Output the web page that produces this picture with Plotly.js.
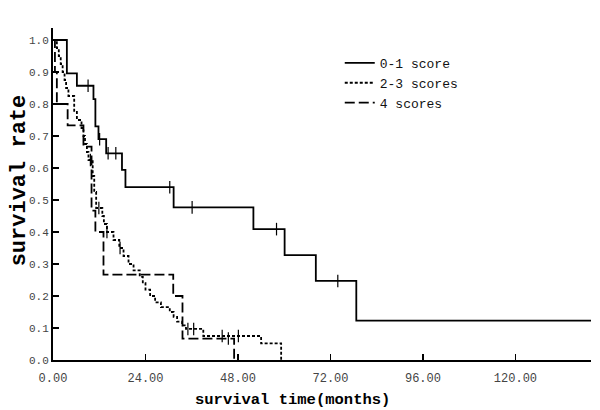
<!DOCTYPE html>
<html>
<head>
<meta charset="utf-8">
<script src="https://cdn.plot.ly/plotly-3.0.1.min.js"></script>
<style>
  body { margin: 0; background: #fff; }
  #chart { width: 600px; height: 410px; }
</style>
</head>
<body>
<div id="chart"></div>
<script>
// step points (month, survival)
const score01Time = [0, 3.6, 6.2, 10.5, 11.0, 11.8, 13.8, 17.9, 18.8, 31.3, 52.0, 60.1, 68.2, 78.7, 139.6];
const score01Surv = [1.0, 0.896, 0.857, 0.815, 0.73, 0.69, 0.646, 0.594, 0.54, 0.477, 0.409, 0.328, 0.247, 0.123, 0.123];
const score01CensTime = [9.1, 12.1, 14.3, 16.3, 30.3, 36.1, 58.0, 73.9];
const score01CensSurv = [0.857, 0.69, 0.646, 0.646, 0.54, 0.477, 0.409, 0.247];

const score23Time = [0, 1.0, 1.5, 2.0, 2.5, 3.0, 3.4, 4.0, 5.5, 6.2, 7.4, 7.9, 8.3, 8.8, 9.2, 10.3, 10.7, 11.2, 12.8, 13.2, 14.0, 15.7, 17.2, 18.3, 19.6, 20.9, 22.5, 23.3, 24.0, 25.2, 26.5, 28.0, 30.3, 31.3, 32.2, 33.5, 34.5, 39.0, 54.0, 59.2];
const score23Surv = [1.0, 0.975, 0.95, 0.925, 0.9, 0.875, 0.85, 0.825, 0.775, 0.75, 0.725, 0.70, 0.675, 0.65, 0.625, 0.575, 0.525, 0.475, 0.45, 0.425, 0.40, 0.375, 0.35, 0.325, 0.30, 0.28, 0.26, 0.24, 0.22, 0.20, 0.18, 0.165, 0.15, 0.135, 0.12, 0.108, 0.097, 0.075, 0.052, 0.0];
const score23CensTime = [9.7, 11.9, 14.0, 17.4, 35.0, 36.5, 43.9, 48.1];
const score23CensSurv = [0.625, 0.475, 0.40, 0.35, 0.097, 0.097, 0.075, 0.075];

const score4Time = [0, 0.5, 1.0, 3.8, 7.9, 10.0, 11.0, 13.1, 31.2, 33.6, 47.0];
const score4Surv = [1.0, 0.9, 0.8, 0.733, 0.667, 0.467, 0.4, 0.267, 0.2, 0.067, 0.0];
const score4CensTime = [45.5];
const score4CensSurv = [0.067];

const seriesNames = ['0-1 score', '2-3 scores', '4 scores'];
const xTicks = [0, 24, 48, 72, 96, 120];
const xTitle = 'survival time(months)';
const yTitle = 'survival rate';

const mono = 'Liberation Mono, DejaVu Sans Mono, monospace';

function stepTrace(x, y, name, dash) {
  return {
    x: x, y: y, name: name, type: 'scatter', mode: 'lines',
    line: {shape: 'hv', color: '#000', width: 1.8, dash: dash},
  };
}
function censorTrace(x, y) {
  return {
    x: x, y: y, type: 'scatter', mode: 'markers', showlegend: false,
    marker: {symbol: 'line-ns-open', size: 9, color: '#000', line: {color: '#000', width: 1.2}},
  };
}

const data = [
  stepTrace(score01Time, score01Surv, seriesNames[0], 'solid'),
  stepTrace(score23Time, score23Surv, seriesNames[1], '3px,2px'),
  stepTrace(score4Time, score4Surv, seriesNames[2], '10px,4px'),
  censorTrace(score01CensTime, score01CensSurv),
  censorTrace(score23CensTime, score23CensSurv),
  censorTrace(score4CensTime, score4CensSurv),
];

const layout = {
  width: 600, height: 410,
  margin: {l: 53, r: 9, t: 28, b: 50},
  paper_bgcolor: '#fff', plot_bgcolor: '#fff',
  showlegend: true,
  legend: {
    x: 0.533, y: 0.94, xanchor: 'left', yanchor: 'top',
    font: {family: mono, size: 13, color: '#111'},
    bgcolor: 'rgba(0,0,0,0)', itemwidth: 30, tracegroupgap: 0,
  },
  xaxis: {
    range: [0, 139.6], tickvals: xTicks, tickformat: '.2f',
    ticks: 'inside', ticklen: 6, tickwidth: 1.5, tickcolor: '#000',
    showline: true, linecolor: '#000', linewidth: 2,
    showgrid: false, zeroline: false, ticklabelstandoff: 6,
    tickfont: {family: mono, size: 12, color: '#444'},
  },
  yaxis: {
    range: [0, 1.0375], dtick: 0.1, tick0: 0, tickformat: '.1f',
    ticks: 'inside', ticklen: 6, tickwidth: 1.5, tickcolor: '#000',
    showline: true, linecolor: '#000', linewidth: 2,
    showgrid: false, zeroline: false,
    tickfont: {family: mono, size: 11, color: '#444'},
  },
  annotations: [
    {text: xTitle, xref: 'paper', yref: 'paper', x: 0.446, y: -0.12, xanchor: 'center', yanchor: 'middle',
     showarrow: false, font: {family: mono, size: 15.5, color: '#000', weight: 'bold'}},
    {text: yTitle, xref: 'paper', yref: 'paper', x: -0.062, y: 0.54, xanchor: 'center', yanchor: 'middle',
     textangle: -90, showarrow: false, font: {family: mono, size: 22, color: '#000', weight: 'bold'}},
  ],
};

Plotly.newPlot('chart', data, layout, {displayModeBar: false, staticPlot: true});
</script>
</body>
</html>
